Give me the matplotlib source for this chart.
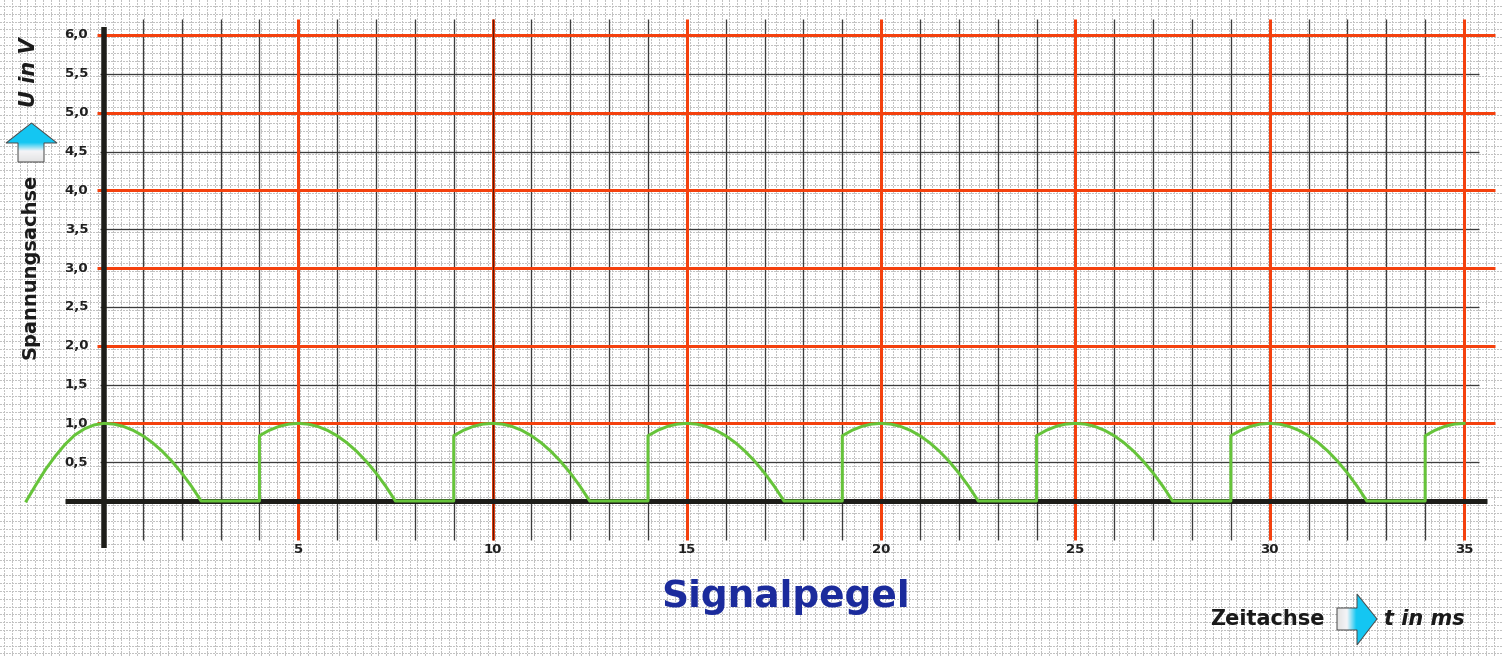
import numpy as np
import matplotlib.pyplot as plt
from matplotlib.patches import Polygon

plt.rcParams['lines.scale_dashes'] = False

# Werte
u_ticks = [0.5, 1.0, 1.5, 2.0, 2.5, 3.0, 3.5, 4.0, 4.5, 5.0, 5.5, 6.0]
u_labels = ["0,5", "1,0", "1,5", "2,0", "2,5", "3,0", "3,5", "4,0", "4,5", "5,0", "5,5", "6,0"]
t_ticks = [5, 10, 15, 20, 25, 30, 35]
t_labels = ["5", "10", "15", "20", "25", "30", "35"]
t_grid = list(range(1, 36))

# Anlauf vor t = 0
start_t = [-2.0, -1.75, -1.5, -1.25, -1.0, -0.75, -0.5, -0.25, 0.0]
start_u = [0.0, 0.21, 0.41, 0.58, 0.73, 0.85, 0.93, 0.98, 1.0]
# ein Bogen, relativ zum Scheitelpunkt
arc_dt = [-1.0, -0.75, -0.5, -0.25, 0.0, 0.25, 0.5, 0.75, 1.0, 1.25, 1.5, 1.75, 2.0, 2.25, 2.5]
arc_u = [0.84, 0.91, 0.96, 0.99, 1.0, 0.99, 0.96, 0.91, 0.84, 0.75, 0.64, 0.51, 0.36, 0.19, 0.0]
peaks = [0, 5, 10, 15, 20, 25, 30, 35]
t_end = 35.0

sig_t = list(start_t)
sig_u = list(start_u)
for p in peaks:
    pts = [(p + dt, v) for dt, v in zip(arc_dt, arc_u) if sig_t[-1] < p + dt <= t_end]
    if not pts:
        continue
    if sig_u[-1] == 0 and pts[0][1] > 0:
        sig_t.append(pts[0][0])
        sig_u.append(0.0)
    for a, b in pts:
        sig_t.append(a)
        sig_u.append(b)

W, H = 1502, 656
fig = plt.figure(figsize=(W / 100, H / 100), dpi=100)
PX = 0.72  # 1 px in pt

# Hintergrund: Karopapier
bg = fig.add_axes([0, 0, 1, 1])
bg.set_xlim(0, W)
bg.set_ylim(H, 0)
bg.axis("off")
step = 7.8
dash = (0.5 * PX, (2 * PX, 2 * PX))
cols = np.round(np.arange(3, W, step)) + 0.5
rows = np.round(np.arange(5, H, step)) + 0.5
bg.vlines(cols, 0, H, colors="#c2c2c2", linewidth=1 * PX, linestyles=[dash], antialiased=False)
bg.hlines(rows, 0, W, colors="#c2c2c2", linewidth=1 * PX, linestyles=[dash], antialiased=False)


def gradient_arrow(ax, verts, stops, horizontal):
    poly = Polygon(verts, closed=True, facecolor="none", edgecolor="#4a4a4a", lw=1 * PX, zorder=3)
    ax.add_patch(poly)
    xs = [v[0] for v in verts]
    ys = [v[1] for v in verts]
    n = 200
    pos = np.linspace(0, 1, n)
    c = np.zeros((n, 3))
    sp = [s[0] for s in stops]
    for k in range(3):
        c[:, k] = np.interp(pos, sp, [s[1][k] for s in stops])
    img = c[np.newaxis, :, :] if horizontal else c[:, np.newaxis, :]
    im = ax.imshow(img, extent=(min(xs), max(xs), max(ys), min(ys)), aspect="auto", zorder=2)
    im.set_clip_path(poly)


cyan = (0.08, 0.78, 0.95)
light = (0.89, 0.89, 0.89)
white = (0.96, 0.96, 0.97)
# Pfeil nach oben (Spannungsachse)
gradient_arrow(bg, [(18, 162), (18, 143), (6, 143), (31.5, 123), (57, 143), (44, 143), (44, 162)],
               [(0, cyan), (0.5, cyan), (0.72, white), (1.0, light)], horizontal=False)
# Pfeil nach rechts (Zeitachse)
gradient_arrow(bg, [(1337, 608), (1357, 608), (1357, 594), (1377, 619), (1357, 645), (1357, 630), (1337, 630)],
               [(0, light), (0.25, white), (0.48, cyan), (1.0, cyan)], horizontal=True)

# Diagramm in Datenkoordinaten
x0, ppm = 104, (1464 - 104) / 35
y0, ppv = 501, (501 - 35) / 6
ax = fig.add_axes([0, 0, 1, 1])
ax.set_xlim(-x0 / ppm, (W - x0) / ppm)
ax.set_ylim(-(H - y0) / ppv, y0 / ppv)
ax.axis("off")
ax.patch.set_alpha(0)

red = "#f4410e"
grey = "#3c3c3c"
v_lo, v_hi = -0.50, 6.21

grey_t = [t for t in t_grid if t % 5 != 0]
red_t = [t for t in t_grid if t % 5 == 0]
ax.vlines(grey_t, v_lo, v_hi, colors=grey, linewidth=1.3 * PX, zorder=2)
grey_u = [u for u in u_ticks if u % 1 != 0]
red_u = [u for u in u_ticks if u % 1 == 0]
ax.hlines(grey_u, -0.1, 35.39, colors=grey, linewidth=1.3 * PX, zorder=2)
ax.hlines(red_u, -0.18, 35.8, colors=red, linewidth=3 * PX, zorder=3)
ax.vlines(red_t, v_lo, v_hi, colors=red, linewidth=3 * PX, zorder=3)
ax.vlines([10], v_lo, v_hi, colors="#5a1a08", linewidth=1.3 * PX, zorder=3)

# Achsen
ax.hlines([0], -1.0, 35.6, colors="#1e1e1a", linewidth=5 * PX, zorder=4)
ax.vlines([0], -0.6, 6.10, colors="#1e1e1a", linewidth=5.5 * PX, zorder=4)

# Signal
ax.plot(sig_t, sig_u, color="#66c43a", linewidth=3 * PX, solid_joinstyle="round", zorder=5)

for u, lab in zip(u_ticks, u_labels):
    ax.text(-0.41, u, lab, ha="right", va="center", fontsize=9.5, fontweight="bold",
            color="#202020", family="DejaVu Sans")
for t, lab in zip(t_ticks, t_labels):
    ax.text(t, -0.63, lab, ha="center", va="center", fontsize=9.5, fontweight="bold",
            color="#202020", family="DejaVu Sans")

# Beschriftungen
bg.text(786, 597, "Signalpegel", ha="center", va="center", fontsize=27, fontweight="bold",
        color="#1b2b9c", family="DejaVu Sans")
bg.text(1210, 619, "Zeitachse", ha="left", va="center", fontsize=15, fontweight="bold",
        color="#1a1a1a", family="DejaVu Sans")
bg.text(1384, 619, "t in ms", ha="left", va="center", fontsize=15, fontweight="bold",
        style="italic", color="#1a1a1a", family="DejaVu Sans")
bg.text(30, 266, "Spannungsachse", ha="center", va="center", rotation=90, fontsize=14,
        fontweight="bold", color="#1a1a1a", family="DejaVu Sans")
bg.text(29, 72, "U in V", ha="center", va="center", rotation=90, fontsize=15,
        fontweight="bold", style="italic", color="#1a1a1a", family="DejaVu Sans")

fig.savefig("out.png", dpi=100)
